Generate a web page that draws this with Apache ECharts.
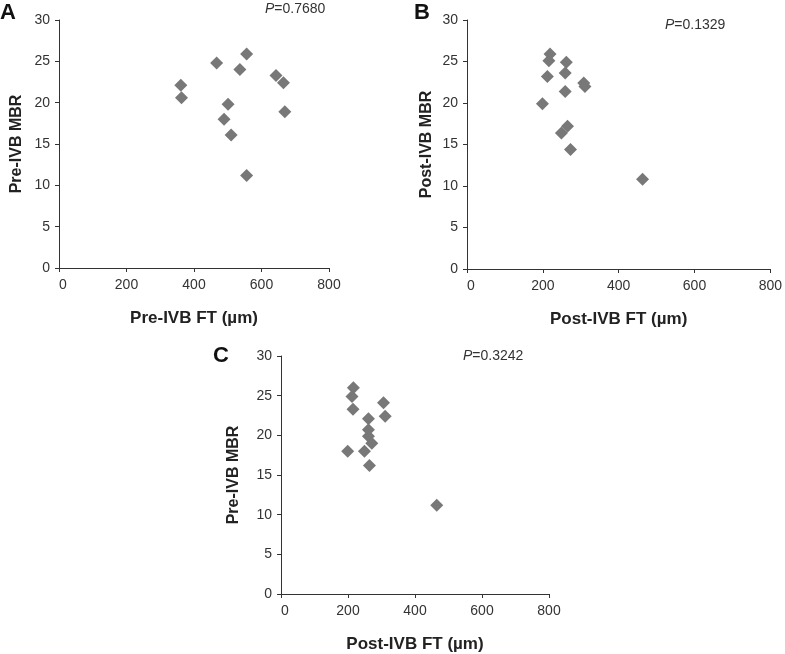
<!DOCTYPE html>
<html lang="en">

<head>
    <meta charset="UTF-8">
    <script type="text/javascript" src="https://cdn.jsdelivr.net/npm/echarts@6.0.0/dist/echarts.min.js"></script>
    <title>FT vs MBR scatter</title>
    <style>
        html, body { margin: 0; padding: 0; background: #fff; }
        #chart { width: 785px; height: 654px; }
    </style>
</head>

<body>
    <div id="chart"></div>

    <script>
        // A: Pre-IVB FT vs Pre-IVB MBR
        const preFT_A = [361, 363, 467, 536, 556, 501, 489, 510, 556, 643, 665, 669];
        const preMBR_A = [22.1, 20.6, 24.8, 24.0, 25.9, 19.8, 18.0, 16.1, 11.2, 23.3, 22.4, 18.9];
        // B: Post-IVB FT vs Post-IVB MBR
        const postFT_B = [219, 216, 262, 259, 212, 308, 311, 259, 199, 265, 249, 273, 463];
        const postMBR_B = [25.9, 25.1, 24.9, 23.6, 23.2, 22.4, 22.0, 21.4, 19.9, 17.2, 16.4, 14.4, 10.8];
        // C: Post-IVB FT vs Pre-IVB MBR
        const postFT_C = [216, 212, 215, 306, 311, 261, 261, 261, 271, 199, 249, 264, 465];
        const preMBR_C = [26.0, 24.9, 23.3, 24.1, 22.4, 22.1, 20.7, 19.9, 19.0, 18.0, 18.0, 16.2, 11.2];

        const pValues = ['0.7680', '0.1329', '0.3242'];
        const panelNames = ['A', 'B', 'C'];

        const pair = (xs, ys) => xs.map((x, i) => [x, ys[i]]);

        const axisColor = '#333';
        const fam = 'Liberation Sans, Arial';
        const labelFont = { color: '#333', fontSize: 14, fontFamily: fam };

        function xAxis(idx, name) {
            return {
                type: 'value', gridIndex: idx, min: 0, max: 800, interval: 200,
                name: name, nameLocation: 'middle', nameGap: 42,
                nameTextStyle: { color: '#222', fontSize: 17, fontWeight: 'bold', fontFamily: fam },
                splitLine: { show: false },
                axisLine: { lineStyle: { color: axisColor } },
                axisTick: { length: 4, lineStyle: { color: axisColor } },
                axisLabel: Object.assign({ margin: 10, alignMinLabel: 'left' }, labelFont)
            };
        }
        function yAxis(idx, name, gap) {
            return {
                type: 'value', gridIndex: idx, min: 0, max: 30, interval: 5,
                name: name, nameLocation: 'middle', nameGap: gap,
                nameTextStyle: { color: '#222', fontSize: 16, fontWeight: 'bold', fontFamily: fam },
                splitLine: { show: false },
                axisLine: { show: true, lineStyle: { color: axisColor } },
                axisTick: { show: true, length: 4, lineStyle: { color: axisColor } },
                axisLabel: Object.assign({ margin: 9 }, labelFont)
            };
        }

        const chart = echarts.init(document.getElementById('chart'), null, { renderer: 'canvas' });

        const pPos = [[265, 2], [665, 18], [463, 349]];
        const letterPos = [[0, 2], [414, 2], [213, 345]];

        chart.setOption({
            animation: false,
            grid: [
                { left: 59, top: 20, width: 270, height: 248 },
                { left: 467, top: 20, width: 308, height: 249 },
                { left: 281, top: 356, width: 268, height: 241 }
            ],
            xAxis: [
                xAxis(0, 'Pre-IVB FT (µm)'),
                xAxis(1, 'Post-IVB FT (µm)'),
                xAxis(2, 'Post-IVB FT (µm)')
            ],
            yAxis: [
                yAxis(0, 'Pre-IVB MBR', 34),
                yAxis(1, 'Post-IVB MBR', 32),
                yAxis(2, 'Pre-IVB MBR', 39)
            ],
            graphic: panelNames.map((n, i) => ({
                type: 'text', left: letterPos[i][0], top: letterPos[i][1],
                style: { text: n, font: 'bold 22px Liberation Sans, Arial', fill: '#111' }
            })).concat(pValues.map((p, i) => ({
                type: 'text', left: pPos[i][0], top: pPos[i][1],
                style: {
                    text: '{i|P}=' + p, font: '14px Liberation Sans, Arial', fill: '#333',
                    rich: { i: { fontStyle: 'italic', fontSize: 14, fontFamily: fam, fill: '#333' } }
                }
            }))),
            series: [
                { type: 'scatter', xAxisIndex: 0, yAxisIndex: 0, data: pair(preFT_A, preMBR_A) },
                { type: 'scatter', xAxisIndex: 1, yAxisIndex: 1, data: pair(postFT_B, postMBR_B) },
                { type: 'scatter', xAxisIndex: 2, yAxisIndex: 2, data: pair(postFT_C, preMBR_C) }
            ].map(s => Object.assign(s, {
                symbol: 'diamond', symbolSize: 13,
                itemStyle: { color: '#787878', opacity: 1 }
            }))
        });
    </script>
</body>

</html>
